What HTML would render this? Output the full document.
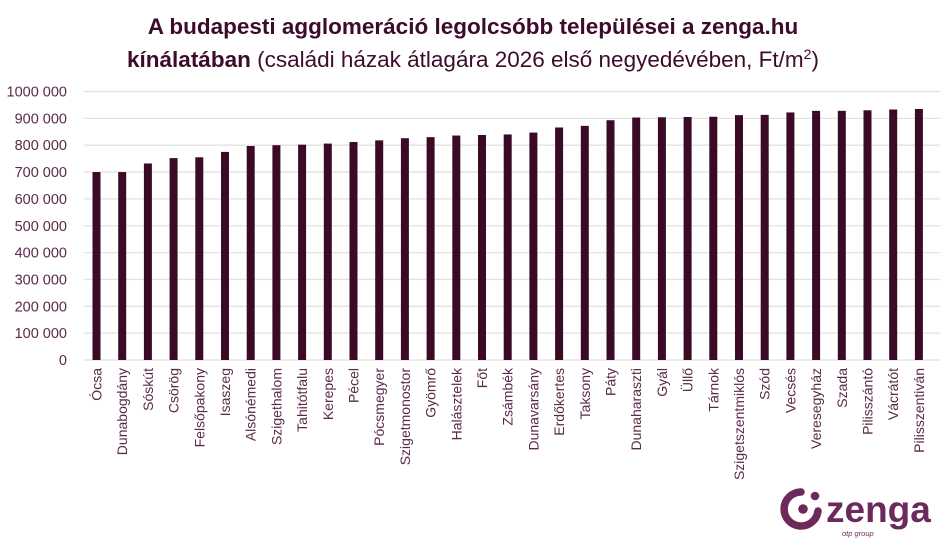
<!DOCTYPE html>
<html><head><meta charset="utf-8"><style>
body{margin:0;background:#fff;width:946px;height:540px;overflow:hidden}
svg{display:block}
</style></head><body>
<svg width="946" height="540" xmlns="http://www.w3.org/2000/svg" font-family="Liberation Sans, DejaVu Sans, sans-serif">
<text x="473" y="34" text-anchor="middle" font-size="22.5" font-weight="bold" fill="#3d0c2b">A budapesti agglomeráció legolcsóbb települései a zenga.hu</text>
<text x="473" y="67" text-anchor="middle" font-size="22.5" fill="#3d0c2b"><tspan font-weight="bold">kínálatában</tspan> (családi házak átlagára 2026 első negyedévében, Ft/m<tspan font-size="14" dy="-8">2</tspan><tspan dy="8">)</tspan></text>
<g id="grid" stroke="#e2e2e2" stroke-width="1.3"></g>
<g id="yl" font-size="14.5" fill="#5a2a48" text-anchor="end"></g>
<g id="bars" fill="#3a0a26"></g>
<g id="xl" font-size="14" fill="#5a2a48"></g>
<g transform="translate(786,488)">
<path d="M15 4 A17 17 0 1 0 32 23" fill="none" stroke="#6b2a5a" stroke-width="7.5" stroke-linecap="round"/>
<circle cx="17" cy="21" r="4.8" fill="#6b2a5a"/>
<circle cx="29" cy="8" r="4.3" fill="#6b2a5a"/>
<text x="40" y="34" font-size="37" font-weight="bold" fill="#6b2a5a">zenga</text>
<text x="56" y="48" font-size="7.5" font-style="italic" fill="#6b2a5a">otp group</text>
</g>
</svg>
<script>
const ns="http://www.w3.org/2000/svg";
function el(t,a,p,txt){const e=document.createElementNS(ns,t);for(const k in a)e.setAttribute(k,a[k]);if(txt)e.textContent=txt;document.getElementById(p).appendChild(e);}
const y0=360,sc=26.85;
for(let i=0;i<=10;i++){const y=y0-i*sc;el('line',{x1:84,x2:940,y1:y,y2:y},'grid');
el('text',{x:67,y:y+5},'yl',i==0?'0':(i==10?'1000 000':i+'00 000'));}
const d=[["Ócsa",700],["Dunabogdány",700],["Sóskút",732],["Csörög",752],["Felsőpakony",755],["Isaszeg",775],["Alsónémedi",797],["Szigethalom",800],["Tahitótfalu",802],["Kerepes",806],["Pécel",812],["Pócsmegyer",818],["Szigetmonostor",826],["Gyömrő",830],["Halásztelek",836],["Főt",838],["Zsámbék",840],["Dunavarsány",847],["Erdőkertes",866],["Taksony",872],["Páty",893],["Dunaharaszti",903],["Gyál",904],["Üllő",905],["Tárnok",906],["Szigetszentmiklós",912],["Szód",913],["Vecsés",922],["Veresegyház",928],["Szada",928],["Pilisszántó",930],["Vácrátót",933],["Pilisszentiván",935]];
d.forEach((v,i)=>{const cx=96.5+i*25.7,h=v[1]/100*sc;
el('rect',{x:cx-4,y:y0-h,width:8,height:h},'bars');
el('text',{transform:`translate(${cx+5},368) rotate(-90)`,'text-anchor':'end'},'xl',v[0]);});
</script>
</body></html>
